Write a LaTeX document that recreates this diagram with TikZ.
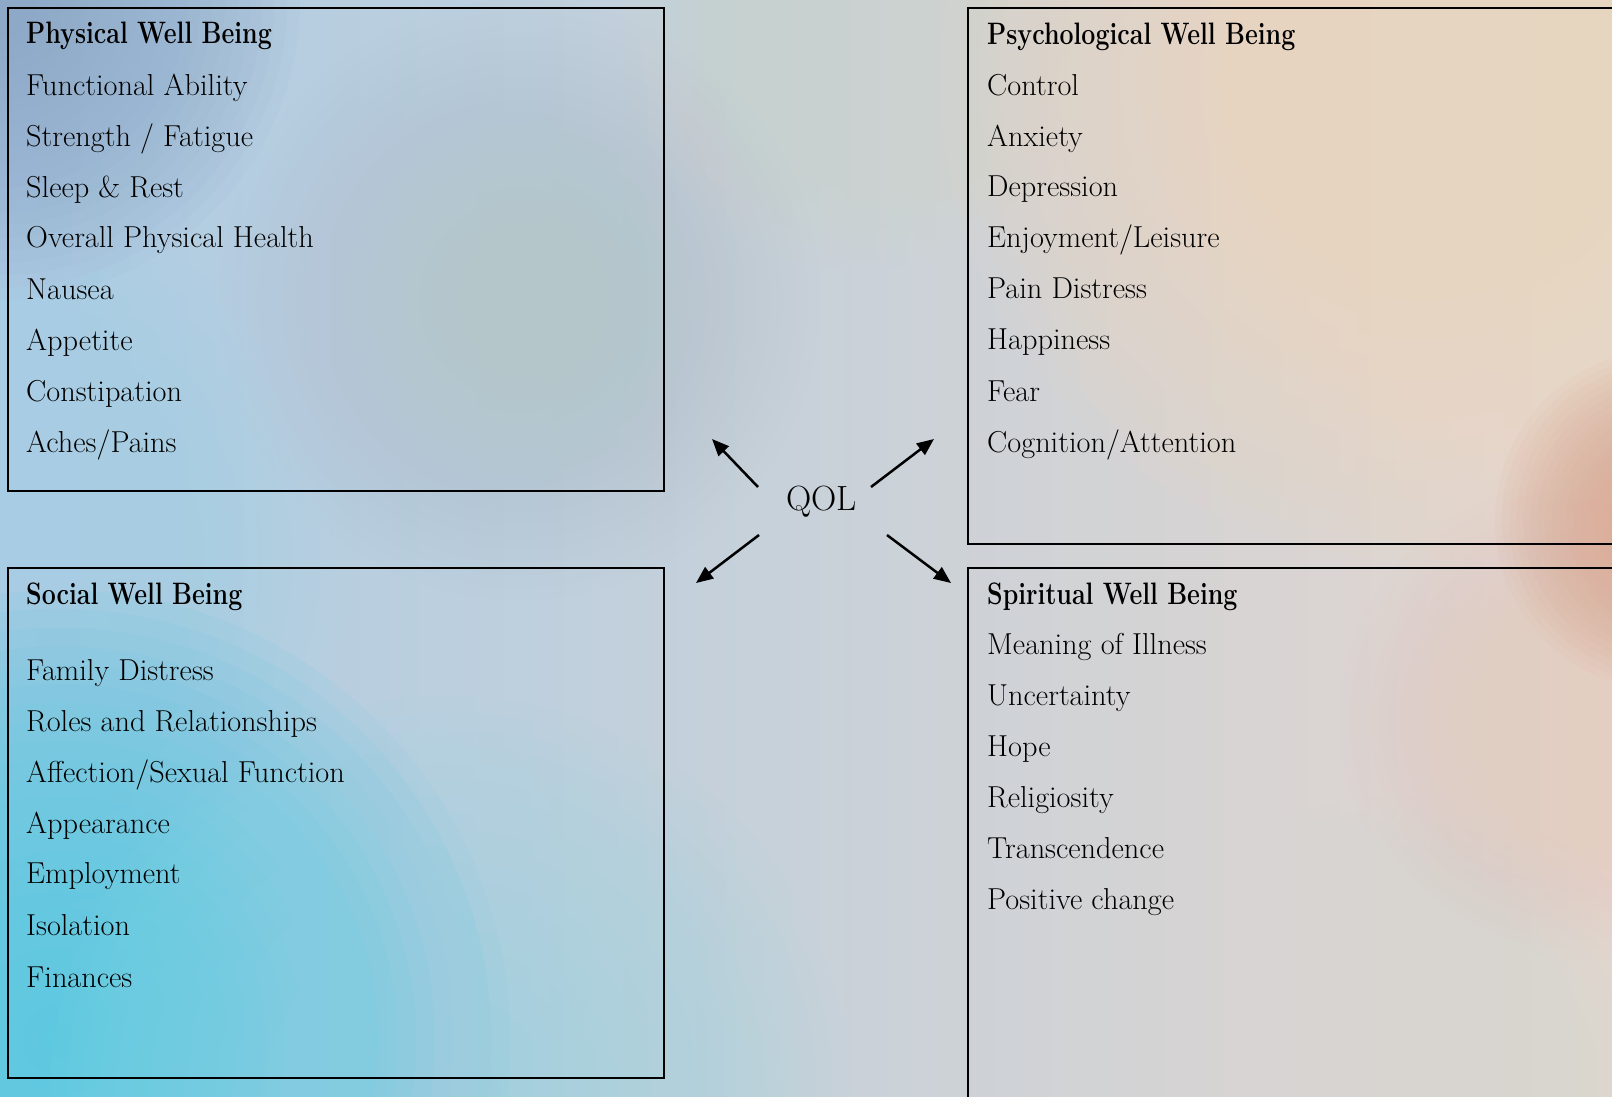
\documentclass[tikz,border=0pt]{standalone}
\usepackage{graphicx}
\usetikzlibrary{arrows.meta}
\definecolor{bgL}{HTML}{ACCCE4}
\definecolor{bgM}{HTML}{D4D8D4}
\definecolor{bgR}{HTML}{E4D6CE}
\definecolor{gTL}{HTML}{8EA8C8}
\definecolor{gL}{HTML}{A8D0EC}
\definecolor{gBL}{HTML}{5AC8E0}
\definecolor{gB}{HTML}{9CE4EE}
\definecolor{gP}{HTML}{B4C6CA}
\definecolor{gT}{HTML}{E2D4D0}
\definecolor{gTR}{HTML}{F4D6C0}
\definecolor{gR}{HTML}{DBA892}
\definecolor{gRt}{HTML}{F2DECA}
\definecolor{gRb}{HTML}{E4CEC2}
\definecolor{gBR}{HTML}{D8D8D6}
% soft glow built from stacked translucent discs
\newcommand\softglow[4]{%
  \foreach \k in {1,...,24}{\fill[#1, fill opacity=#4] #2 circle ({#3pt*\k/24});}}
\newcommand\hdtxt[1]{\scalebox{0.805}[1]{\fontsize{31}{31}\selectfont\bfseries #1}}
\newcommand\ittxt[1]{\fontsize{30.3}{30.3}\selectfont #1}
\tikzset{
  panel/.style={draw=black, line width=2.2pt, anchor=north west, inner sep=0pt},
  txt/.style={anchor=base west, inner sep=0pt, text=black},
  qolarrow/.style={line width=2.5pt, -{Triangle[length=17pt,width=14pt]}}
}
\begin{document}
\begin{tikzpicture}[x=1pt,y=-1pt]
\useasboundingbox (0,0) rectangle (1612,1096);
\clip (0,0) rectangle (1612,1096);
% background
\shade[left color=bgL, middle color=bgM, right color=bgR] (0,0) rectangle (1612,1096);
\softglow{gTL}{(0,0)}{300}{0.07}
\softglow{gL}{(0,560)}{350}{0.037}
\softglow{gBL}{(60,1040)}{450}{0.091}
\softglow{gB}{(450,1096)}{400}{0.04}
\softglow{gP}{(520,300)}{300}{0.028}
\softglow{gT}{(860,30)}{240}{0.03}
\softglow{gTR}{(1420,80)}{480}{0.07}
\softglow{gRt}{(1590,320)}{200}{0.03}
\softglow{gRb}{(1580,720)}{240}{0.025}
\softglow{gR}{(1665,520)}{170}{0.08}
\softglow{gBR}{(1400,1096)}{300}{0.028}

% panels
\node[panel, minimum width=656pt, minimum height=483pt] (phys) at (7,7) {};
\node[panel, minimum width=663pt, minimum height=536pt] (psych) at (967,7) {};
\node[panel, minimum width=656pt, minimum height=510pt] (soc) at (7,567) {};
\node[panel, minimum width=663pt, minimum height=560pt] (spir) at (967,567) {};

% physical
\node[txt] (ph0) at (26,43) {\hdtxt{Physical Well Being}};
\node[txt] (ph1) at (26,95) {\ittxt{Functional Ability}};
\node[txt] (ph2) at (26,146) {\ittxt{Strength / Fatigue}};
\node[txt] (ph3) at (26,197) {\ittxt{Sleep \& Rest}};
\node[txt] (ph4) at (26,247) {\ittxt{Overall Physical Health}};
\node[txt] (ph5) at (26,299) {\ittxt{Nausea}};
\node[txt] (ph6) at (26,350) {\ittxt{Appetite}};
\node[txt] (ph7) at (26,401) {\ittxt{Constipation}};
\node[txt] (ph8) at (26,452) {\ittxt{Aches/Pains}};

% psychological
\node[txt] (ps0) at (987,44) {\hdtxt{Psychological Well Being}};
\node[txt] (ps1) at (987,95) {\ittxt{Control}};
\node[txt] (ps2) at (987,146) {\ittxt{Anxiety}};
\node[txt] (ps3) at (987,196) {\ittxt{Depression}};
\node[txt] (ps4) at (987,247) {\ittxt{Enjoyment/Leisure}};
\node[txt] (ps5) at (987,298) {\ittxt{Pain Distress}};
\node[txt] (ps6) at (987,349) {\ittxt{Happiness}};
\node[txt] (ps7) at (987,401) {\ittxt{Fear}};
\node[txt] (ps8) at (987,452) {\ittxt{Cognition/Attention}};

% social
\node[txt] (so0) at (26,604) {\hdtxt{Social Well Being}};
\node[txt] (so1) at (26,680) {\ittxt{Family Distress}};
\node[txt] (so2) at (26,731) {\ittxt{Roles and Relationships}};
\node[txt] (so3) at (26,782) {\ittxt{Affection/Sexual Function}};
\node[txt] (so4) at (26,833) {\ittxt{Appearance}};
\node[txt] (so5) at (26,883) {\ittxt{Employment}};
\node[txt] (so6) at (26,935) {\ittxt{Isolation}};
\node[txt] (so7) at (26,987) {\ittxt{Finances}};

% spiritual
\node[txt] (sp0) at (987,604) {\hdtxt{Spiritual Well Being}};
\node[txt] (sp1) at (987,654) {\ittxt{Meaning of Illness}};
\node[txt] (sp2) at (987,705) {\ittxt{Uncertainty}};
\node[txt] (sp3) at (987,756) {\ittxt{Hope}};
\node[txt] (sp4) at (987,807) {\ittxt{Religiosity}};
\node[txt] (sp5) at (987,858) {\ittxt{Transcendence}};
\node[txt] (sp6) at (987,909) {\ittxt{Positive change}};

% centre
\node[txt, font=\fontsize{35}{35}\selectfont] (qol) at (786,510) {QOL};
\coordinate (aULs) at (758,487);
\coordinate (aULe) at (712,439);
\coordinate (aURs) at (871,487);
\coordinate (aURe) at (934,439);
\coordinate (aLLs) at (759,535);
\coordinate (aLLe) at (696,583);
\coordinate (aLRs) at (887,535);
\coordinate (aLRe) at (951,583);
\draw[qolarrow] (aULs) -- (aULe);
\draw[qolarrow] (aURs) -- (aURe);
\draw[qolarrow] (aLLs) -- (aLLe);
\draw[qolarrow] (aLRs) -- (aLRe);
\end{tikzpicture}
\end{document}
